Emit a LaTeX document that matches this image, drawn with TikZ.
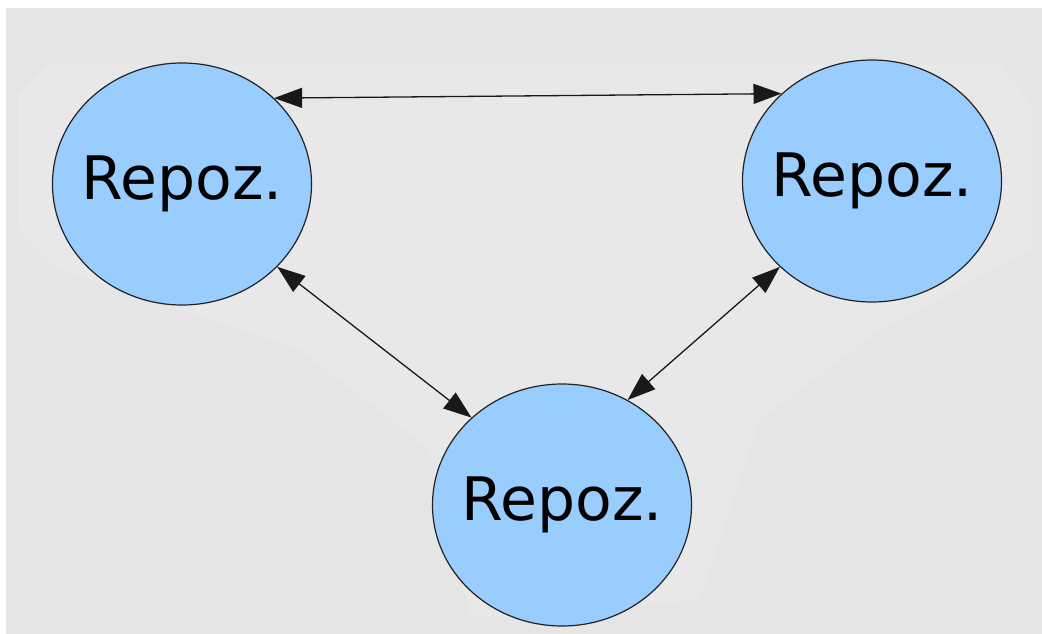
\documentclass[tikz,border=0pt]{standalone}
\usepackage{fontspec}
\setmainfont{DejaVu Sans}
\usetikzlibrary{arrows.meta,shapes.geometric}

\definecolor{pagegray}{HTML}{E5E5E5}
\definecolor{hazegray}{HTML}{E8E8E8}
\definecolor{repofill}{HTML}{99CCFF}
\definecolor{repoline}{HTML}{222222}

\tikzset{
  repo/.style={ellipse, draw=repoline, line width=1.2pt, fill=repofill,
    minimum width=259pt, minimum height=242pt, inner sep=0pt,
    label={[font=\fontsize{60}{60}\selectfont, text=black]center:#1}},
  link/.style={line width=1.3pt, color=black!90,
    {Triangle[length=28pt,width=20pt]}-{Triangle[length=28pt,width=20pt]}}
}

\begin{document}
\begin{tikzpicture}[x=1pt,y=-1pt]
  % page and backdrop
  \fill[white] (0,0) rectangle (1042,634);
  \useasboundingbox (0,0) rectangle (1042,634);
  \fill[pagegray] (6,8) rectangle (1042,634);
  \fill[hazegray] (18,95) -- (45,65) -- (1000,65) -- (1032,105) -- (1032,250)
    -- (880,330) -- (760,420) -- (700,600) -- (470,618) -- (430,450)
    -- (300,350) -- (60,270) -- (18,230) -- cycle;

  % repositories
  \node[repo=Repoz.] (L) at (182,184) {};
  \node[repo=Repoz.] (R) at (872,181) {};
  \node[repo=Repoz.] (B) at (562,505) {};

  % two-way links
  \draw[link] (L.43) -- (R.136);
  \draw[link] (L.-41) -- (B.136);
  \draw[link] (R.223) -- (B.58);
\end{tikzpicture}
\end{document}
